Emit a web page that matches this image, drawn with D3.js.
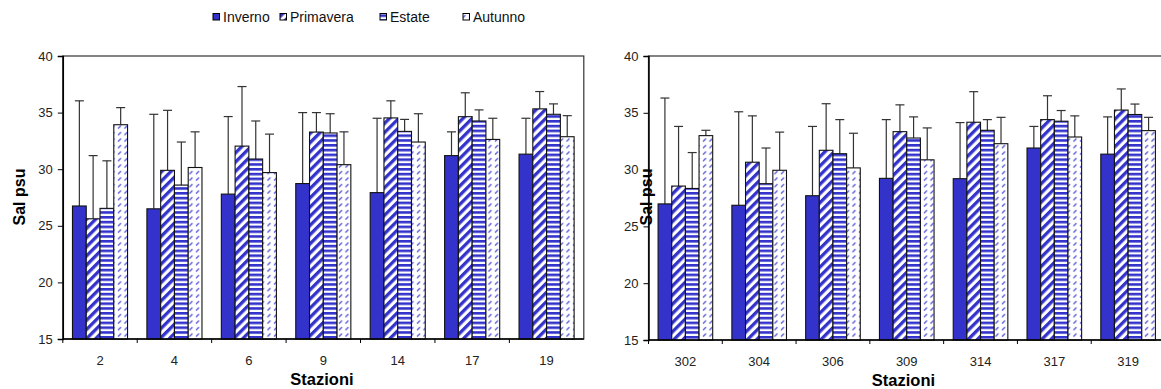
<!DOCTYPE html>
<html><head><meta charset="utf-8">
<script src="https://cdn.jsdelivr.net/npm/d3@7"></script>
<style>body{margin:0;background:#fff}svg{display:block;font-family:"Liberation Sans",Arial,sans-serif}</style>
</head><body>
<svg id="c" width="1161" height="389"></svg>
<script>
const seriesNames = ["Inverno","Primavera","Estate","Autunno"];
const yTicks = [15,20,25,30,35,40];

const categoriesA = ["2","4","6","9","14","17","19"];
const invernoA   = [26.75, 26.5, 27.8, 28.73, 27.93, 31.2, 31.33];
const primaveraA = [25.62, 29.9, 32.04, 33.28, 34.53, 34.64, 35.33];
const estateA    = [26.54, 28.6, 30.9, 33.2, 33.34, 34.26, 34.85];
const autunnoA   = [33.93, 30.15, 29.7, 30.4, 32.4, 32.63, 32.87];
const invernoSdA   = [9.29, 8.35, 6.85, 6.27, 6.57, 2.1, 3.17];
const primaveraSdA = [5.58, 5.3, 5.26, 1.72, 1.51, 2.11, 1.53];
const estateSdA    = [4.2, 3.8, 3.36, 1.7, 1.06, 0.98, 0.92];
const autunnoSdA   = [1.51, 3.15, 3.4, 2.9, 2.5, 1.87, 1.86];

const categoriesB = ["302","304","306","309","314","317","319"];
const invernoB   = [26.98, 26.86, 27.7, 29.23, 29.2, 31.9, 31.36];
const primaveraB = [28.55, 30.65, 31.7, 33.34, 34.17, 34.4, 35.24];
const estateB    = [28.34, 28.76, 31.4, 32.78, 33.46, 34.26, 34.85];
const autunnoB   = [32.99, 29.94, 30.15, 30.86, 32.28, 32.87, 33.43];
const invernoSdB   = [9.32, 8.23, 6.1, 5.17, 4.94, 1.9, 3.28];
const primaveraSdB = [5.25, 4.08, 4.1, 2.36, 2.69, 2.1, 1.86];
const estateSdB    = [3.16, 3.14, 3.0, 1.86, 0.94, 0.94, 0.92];
const autunnoSdB   = [0.47, 3.36, 3.05, 2.81, 2.32, 1.86, 1.17];

const BLUE = "#3333cc";
const svg = d3.select("#c");
const defs = svg.append("defs");
const p1 = defs.append("pattern").attr("id","pPrim").attr("patternUnits","userSpaceOnUse")
  .attr("width",6.5).attr("height",6.5).attr("patternTransform","rotate(45)");
p1.append("rect").attr("width",6.5).attr("height",6.5).attr("fill","#fff");
p1.append("rect").attr("width",3.3).attr("height",6.5).attr("fill",BLUE);
const p2 = defs.append("pattern").attr("id","pEst").attr("patternUnits","userSpaceOnUse")
  .attr("width",5).attr("height",4.8);
p2.append("rect").attr("width",5).attr("height",4.8).attr("fill","#fff");
p2.append("rect").attr("width",5).attr("height",2.6).attr("fill",BLUE);
const p3 = defs.append("pattern").attr("id","pAut").attr("patternUnits","userSpaceOnUse")
  .attr("width",6.5).attr("height",6.5);
p3.append("rect").attr("width",6.5).attr("height",6.5).attr("fill","#fff");
p3.append("line").attr("x1",1).attr("y1",5).attr("x2",4).attr("y2",2).attr("stroke","#5050d8").attr("stroke-width",1.3);
const fills = [BLUE,"url(#pPrim)","url(#pEst)","url(#pAut)"];

function chart(cfg){
  const {left,right,top,bottom,cats,vals,sds,yLabelX,xLabelX} = cfg;
  const g = svg.append("g");
  const x0 = d3.scaleBand().domain(cats).range([left,right]).padding(0);
  const x1 = d3.scaleBand().domain(seriesNames).range([x0.step()*0.13, x0.step()*0.87]).padding(0);
  const y = d3.scaleLinear().domain([15,40]).range([bottom,top]);
  g.append("rect").attr("x",left).attr("y",top).attr("width",right-left).attr("height",bottom-top)
    .attr("fill","none").attr("stroke","#333").attr("stroke-width",1.2);
  cats.forEach((c,i)=>{
    seriesNames.forEach((s,j)=>{
      const v = vals[j][i], sd = sds[j][i];
      const bx = x0(c)+x1(s), bw = x1.bandwidth();
      const cx = bx + bw/2;
      g.append("line").attr("x1",cx).attr("x2",cx).attr("y1",y(v)).attr("y2",y(v+sd))
        .attr("stroke","#333").attr("stroke-width",1.2);
      g.append("line").attr("x1",cx-4.5).attr("x2",cx+4.5).attr("y1",y(v+sd)).attr("y2",y(v+sd))
        .attr("stroke","#333").attr("stroke-width",1.2);
      g.append("rect").attr("x",bx).attr("y",y(v)).attr("width",bw).attr("height",y(15)-y(v))
        .attr("fill",fills[j]).attr("stroke","#111").attr("stroke-width",1.1);
    });
  });
  const ya = g.append("g").attr("transform",`translate(${left},0)`)
    .call(d3.axisLeft(y).tickValues(yTicks).tickSize(5).tickPadding(5));
  ya.select(".domain").attr("stroke","#000").attr("stroke-width",1.5);
  ya.selectAll("line").attr("stroke","#000");
  ya.selectAll("text").attr("font-size",13).attr("fill","#222").attr("font-family","Liberation Sans, Arial");
  const xa = g.append("g").attr("transform",`translate(0,${bottom})`);
  xa.append("line").attr("x1",left).attr("x2",right).attr("stroke","#000").attr("stroke-width",1.5);
  cats.forEach((c,i)=>{
    xa.append("line").attr("x1",x0(c)).attr("x2",x0(c)).attr("y1",0).attr("y2",4).attr("stroke","#000");
    xa.append("text").attr("x",x0(c)+x0.bandwidth()/2).attr("y",26).attr("text-anchor","middle")
      .attr("font-size",13).attr("fill","#222").text(c);
  });
  svg.append("text").attr("x",xLabelX).attr("y",bottom+46).attr("text-anchor","middle")
    .attr("font-size",16.5).attr("font-weight","bold").text("Stazioni");
  svg.append("text").attr("transform",`translate(${yLabelX},197) rotate(-90)`).attr("text-anchor","middle")
    .attr("font-size",16).attr("font-weight","bold").text("Sal psu");
}

chart({left:62.8,right:583.8,top:56,bottom:339,cats:categoriesA,
  vals:[invernoA,primaveraA,estateA,autunnoA],sds:[invernoSdA,primaveraSdA,estateSdA,autunnoSdA],
  yLabelX:25,xLabelX:322});
chart({left:648.5,right:1165,top:56,bottom:340,cats:categoriesB,
  vals:[invernoB,primaveraB,estateB,autunnoB],sds:[invernoSdB,primaveraSdB,estateSdB,autunnoSdB],
  yLabelX:652,xLabelX:903.5});

const legendX = [213,280,380,463];
const lg = svg.append("g");
seriesNames.forEach((s,j)=>{
  lg.append("rect").attr("x",legendX[j]).attr("y",13.5).attr("width",6.5).attr("height",6.5)
    .attr("fill",fills[j]).attr("stroke","#000").attr("stroke-width",1);
  lg.append("text").attr("x",legendX[j]+10).attr("y",21.5).attr("font-size",14).attr("fill","#111").text(s);
});
</script>
</body></html>
